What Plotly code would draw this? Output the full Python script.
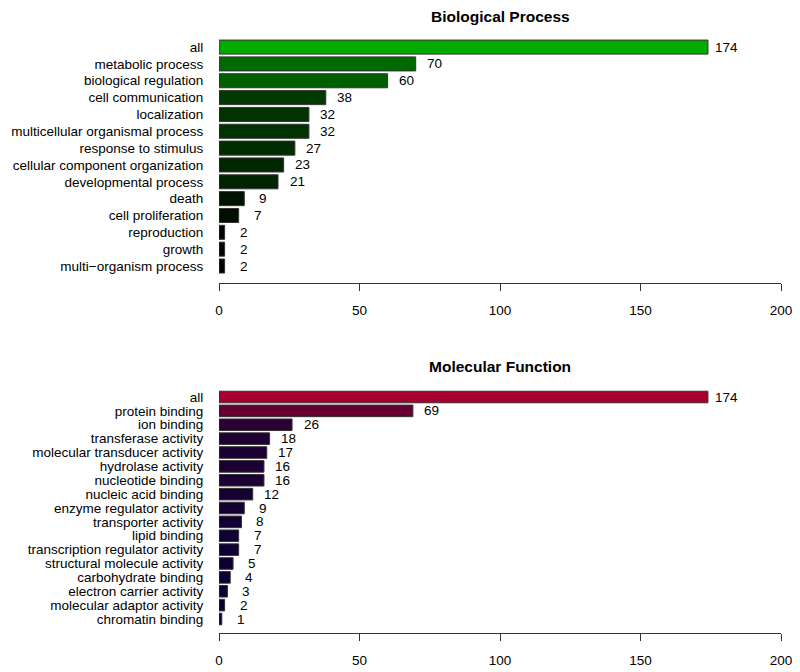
import plotly.graph_objects as go
from plotly.subplots import make_subplots

# Biological Process
bp_terms = [
    "all", "metabolic process", "biological regulation", "cell communication",
    "localization", "multicellular organismal process", "response to stimulus",
    "cellular component organization", "developmental process", "death",
    "cell proliferation", "reproduction", "growth", "multi−organism process",
]
bp_counts = [174, 70, 60, 38, 32, 32, 27, 23, 21, 9, 7, 2, 2, 2]

# Molecular Function
mf_terms = [
    "all", "protein binding", "ion binding", "transferase activity",
    "molecular transducer activity", "hydrolase activity", "nucleotide binding",
    "nucleic acid binding", "enzyme regulator activity", "transporter activity",
    "lipid binding", "transcription regulator activity",
    "structural molecule activity", "carbohydrate binding",
    "electron carrier activity", "molecular adaptor activity", "chromatin binding",
]
mf_counts = [174, 69, 26, 18, 17, 16, 16, 12, 9, 8, 7, 7, 5, 4, 3, 2, 1]

x_ticks = [0, 50, 100, 150, 200]

# bar fills
BP_COLORS = ["#00aa00", "#006a00", "#006000", "#003a00", "#003300", "#003300",
             "#002c00", "#002800", "#002400", "#001200", "#000e00", "#000400",
             "#000400", "#000400"]
MF_COLORS = ["#a8002e", "#660033", "#2a0033", "#1e0033", "#1d0033", "#1c0033",
             "#1c0033", "#160033", "#120033", "#110033", "#100033", "#100033",
             "#0e0033", "#0d0033", "#0c0033", "#0b0033", "#0a0033"]

FONT = "Liberation Sans, Arial, Helvetica, sans-serif"
LABEL_SIZE = 13.5

fig = make_subplots(rows=2, cols=1, vertical_spacing=0.1)

# page has an 8px body margin, domains below account for it
panels = [
    (1, bp_terms, bp_counts, BP_COLORS, [14.01, -0.6], [0.5965, 0.9858]),
    (2, mf_terms, mf_counts, MF_COLORS, [17.01, -0.6], [0.0427, 0.4293]),
]

for row, terms, counts, colors, yrange, ydom in panels:
    fig.add_trace(go.Bar(
        x=counts,
        y=terms,
        orientation="h",
        marker=dict(color=colors, line=dict(color="#333333", width=1)),
        showlegend=False,
        hoverinfo="x+y",
    ), row=row, col=1)
    # value labels just right of each bar
    for t, v in zip(terms, counts):
        fig.add_annotation(
            x=v, y=t, text=str(v), showarrow=False,
            xanchor="center", xshift=19,
            font=dict(family=FONT, size=LABEL_SIZE, color="black"),
            row=row, col=1,
        )
    fig.update_yaxes(
        type="category", range=yrange, domain=ydom,
        tickmode="array", tickvals=terms, ticktext=terms,
        automargin=False,
        showline=False, showgrid=False, zeroline=False,
        ticks="outside", ticklen=12, tickcolor="rgba(0,0,0,0)",
        tickfont=dict(family=FONT, size=LABEL_SIZE, color="black"),
        row=row, col=1,
    )
    fig.update_xaxes(
        range=[0, 200], tickvals=x_ticks, automargin=False,
        showline=True, linecolor="#333333", linewidth=1,
        ticks="outside", ticklen=7, tickcolor="#333333",
        ticklabelstandoff=8,
        showgrid=False, zeroline=False,
        tickfont=dict(family=FONT, size=LABEL_SIZE, color="black"),
        row=row, col=1,
    )

fig.add_annotation(text="<b>Biological Process</b>", xref="paper", yref="paper",
                   x=0.5, y=(652 - 9) / 632, yanchor="middle", showarrow=False,
                   font=dict(family=FONT, size=15.5, color="black"))
fig.add_annotation(text="<b>Molecular Function</b>", xref="paper", yref="paper",
                   x=0.5, y=(652 - 358) / 632, yanchor="middle", showarrow=False,
                   font=dict(family=FONT, size=15.5, color="black"))

fig.update_layout(
    width=800, height=672,
    margin=dict(l=211, r=27, t=20, b=20, autoexpand=False),
    bargap=1 / 6,
    plot_bgcolor="white",
    paper_bgcolor="white",
)

fig.write_html("out.html")
